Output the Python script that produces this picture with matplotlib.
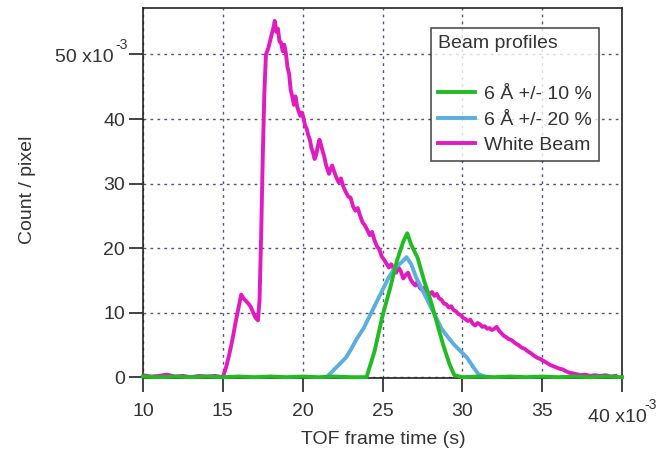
import matplotlib
matplotlib.use("Agg")
import matplotlib.pyplot as plt

plt.rcParams['font.family'] = ['Liberation Sans', 'DejaVu Sans']

# TOF frame time (x10^-3 s) and counts/pixel (x10^-3)
white_x = [10.0, 10.5, 11.0, 11.5, 12.0, 12.5, 13.0, 13.5, 14.0, 14.5, 15.0,
           15.2, 15.4, 15.6, 15.8, 16.0, 16.15, 16.3, 16.45, 16.6, 16.75, 16.9, 17.05, 17.2,
           17.3, 17.4, 17.5, 17.6, 17.7, 17.85, 18.0, 18.1, 18.2, 18.25,
           18.35, 18.45, 18.55, 18.65, 18.75, 18.85, 18.95, 19.05, 19.15, 19.25, 19.35, 19.45,
           19.55, 19.65, 19.75, 19.85, 19.95, 20.05, 20.15, 20.25, 20.35, 20.45, 20.55, 20.65,
           20.75, 20.85, 20.95, 21.05, 21.15, 21.25, 21.35, 21.45, 21.55, 21.65, 21.75, 21.85,
           21.95, 22.1, 22.25, 22.4, 22.55, 22.7, 22.85, 23.0, 23.15, 23.3, 23.45, 23.6,
           23.75, 23.9, 24.05, 24.2, 24.35, 24.5, 24.65, 24.8, 24.95, 25.1, 25.25, 25.4,
           25.55, 25.7, 25.85, 26.0, 26.15, 26.3, 26.45, 26.6, 26.75, 26.9, 27.05, 27.2,
           27.35, 27.5, 27.65, 27.8, 27.95, 28.1, 28.25, 28.4, 28.55, 28.7, 28.85, 29.0,
           29.15, 29.3, 29.45, 29.6, 29.75, 29.9, 30.05, 30.2, 30.35, 30.5, 30.65, 30.8,
           30.95, 31.1, 31.25, 31.4, 31.55, 31.7, 31.85, 32.0, 32.15, 32.3, 32.45, 32.6,
           32.75, 32.9, 33.05, 33.2, 33.35, 33.5, 33.7, 33.9, 34.1, 34.3, 34.5, 34.7,
           34.9, 35.1, 35.3, 35.5, 35.7, 35.9, 36.1, 36.3, 36.5, 36.7, 36.9, 37.1,
           37.4, 37.7, 38.0, 38.3, 38.6, 39.0, 39.3, 39.6]
white_y = [0.3, 0.1, 0.2, 0.4, 0.1, 0.2, 0.0, 0.2, 0.1, 0.2, 0.0,
           1.5, 3.5, 5.8, 8.5, 11.0, 12.8, 12.2, 11.8, 11.4, 10.9, 10.0, 9.2, 8.8,
           12.0, 22.0, 34.0, 44.0, 50.0, 51.0, 52.5, 53.5, 54.5, 55.2,
           53.5, 54.0, 52.0, 51.8, 50.5, 51.5, 50.2, 48.0, 47.0, 44.5, 43.5, 42.2,
           43.5, 42.0, 41.2, 40.5, 41.0, 40.2, 39.0, 38.5, 37.5, 36.8, 35.5, 34.8,
           33.8, 34.5, 35.8, 36.8, 36.0, 35.0, 34.2, 33.0, 32.2, 31.5, 32.3, 32.8,
           32.0, 31.0, 30.2, 30.8, 29.5, 28.7, 28.0, 27.8, 26.5, 25.8, 26.2, 25.0,
           24.0, 23.5, 22.8, 22.0, 22.5, 21.2, 20.3, 19.8, 18.7, 18.2, 17.6, 17.0,
           17.5, 16.8, 16.2, 17.0, 16.4, 15.3, 15.8, 16.2, 15.2, 14.6, 14.2, 14.8,
           13.8, 13.5, 13.9, 13.2, 12.8, 13.2, 12.6, 12.9, 12.2, 12.0, 11.4, 11.3,
           10.8, 11.0, 10.4, 10.2, 9.8, 9.6, 9.2, 9.0, 8.7, 8.9, 8.3, 8.0,
           8.4, 8.2, 7.8, 7.9, 7.5, 7.6, 7.3, 7.5, 7.8, 7.2, 6.8, 6.4,
           6.2, 5.9, 5.8, 5.5, 5.2, 5.0, 4.6, 4.4, 4.0, 3.7, 3.3, 3.0,
           2.8, 2.5, 2.2, 1.9, 1.7, 1.5, 1.3, 1.2, 0.9, 0.7, 0.6, 0.5,
           0.3, 0.4, 0.2, 0.3, 0.2, 0.3, 0.1, 0.2]

band20_x = [21.5, 21.9, 22.3, 22.7, 23.0, 23.4, 23.8, 24.2, 24.6, 25.0, 25.4, 25.8, 26.2, 26.5,
            26.8, 27.1, 27.5, 27.9, 28.3, 28.7, 29.1, 29.5, 29.9, 30.3, 30.7, 31.0, 31.3]
band20_y = [0.0, 1.0, 2.0, 3.0, 4.2, 6.0, 7.5, 9.5, 11.5, 13.5, 15.5, 17.0, 17.8, 18.6,
            17.5, 15.5, 13.5, 11.5, 9.5, 7.5, 6.2, 5.0, 4.0, 3.0, 1.5, 0.5, 0.2]

band10_x = [10.0, 11.0, 12.0, 13.0, 14.0, 15.0, 16.0, 17.0, 18.0, 19.0, 20.0, 21.0, 22.0, 23.0,
            24.0, 24.5, 25.0, 25.5, 25.9, 26.3, 26.55, 26.8, 27.2, 27.6, 28.0, 28.4, 28.8, 29.2,
            29.5, 30.0, 31.0, 32.0, 33.0, 34.0, 35.0, 36.0, 37.0, 38.0, 39.0, 40.0]
band10_y = [0.1, 0.0, 0.1, 0.0, 0.1, 0.0, 0.1, 0.0, 0.1, 0.0, 0.1, 0.0, 0.1, 0.0,
            0.0, 4.0, 9.5, 14.0, 18.0, 21.0, 22.3, 20.5, 18.5, 15.0, 12.0, 8.5, 5.0, 2.0,
            0.3, 0.0, 0.1, 0.0, 0.1, 0.0, 0.1, 0.0, 0.1, 0.0, 0.1, 0.0]

labels = ["6 Å +/- 10 %", "6 Å +/- 20 %", "White Beam"]
colors = ["#22bb22", "#5aaee0", "#e01bc0"]
xticks = [10, 15, 20, 25, 30, 35, 40]
yticks = [0, 10, 20, 30, 40, 50]

FS = 14
W, H = 660, 453
fig = plt.figure(figsize=(6.6, 4.53), dpi=100)
ax = fig.add_axes([143/W, 1 - 377.5/H, (622-143)/W, (377.5-8)/H])

lw = 2.8
l3, = ax.plot(white_x, white_y, color=colors[2], lw=lw, zorder=3)
l2, = ax.plot(band20_x, band20_y, color=colors[1], lw=lw, zorder=4)
l1, = ax.plot(band10_x, band10_y, color=colors[0], lw=lw, zorder=5, clip_on=False)

ax.set_xlim(10, 40)
ax.set_ylim(-0.05, 57.2)
ax.set_xticks(xticks)
ax.set_yticks(yticks)
txtc = "#333333"
ax.set_xticklabels([str(t) for t in xticks[:-1]] + [""])
ax.set_yticklabels([str(t) for t in yticks[:-1]] + [""])
ax.tick_params(direction='out', length=10, width=1.2, labelsize=FS, colors='#222222',
               labelcolor=txtc, pad=3)
ax.tick_params(axis='x', pad=8)

# exponent-style labels for the last ticks (Igor style)
fig.text(588/W, 1 - 418/H, "40 x10", ha='left', va='center', fontsize=FS, color=txtc)
fig.text(644/W, 1 - 405/H, "-3", ha='left', va='center', fontsize=10, color=txtc)
fig.text(114/W, 1 - 58/H, "50 x10", ha='right', va='center', fontsize=FS, color=txtc)
fig.text(115/W, 1 - 45/H, "-3", ha='left', va='center', fontsize=10, color=txtc)

for s in ax.spines.values():
    s.set_linewidth(1.2)
    s.set_color('#222222')
ax.grid(True, linestyle=(0, (2, 3)), color='#555577', linewidth=1.0)
ax.set_axisbelow(True)

fig.text(383/W, 1 - 440/H, "TOF frame time (s)", ha='center', va='center',
         fontsize=FS, color=txtc)
fig.text(27/W, 1 - 190/H, "Count / pixel", rotation=90, ha='center', va='center',
         fontsize=FS, color=txtc)

leg = ax.legend([l1, l2, l3], labels, title="Beam profiles\n", loc='upper left',
                bbox_to_anchor=((431-143)/479, (377.5-28)/369.5), fontsize=FS,
                title_fontsize=FS, alignment='left', frameon=True, fancybox=False,
                handlelength=1.9, handletextpad=0.5, labelspacing=0.4, borderpad=0.35,
                borderaxespad=0)
leg.get_title().set_linespacing(1.7)
leg.get_frame().set_edgecolor('#222222')
leg.get_frame().set_linewidth(1.2)
for t in leg.get_texts():
    t.set_color(txtc)
leg.get_title().set_color(txtc)
leg.set_zorder(10)

fig.savefig("out.png", dpi=100)
